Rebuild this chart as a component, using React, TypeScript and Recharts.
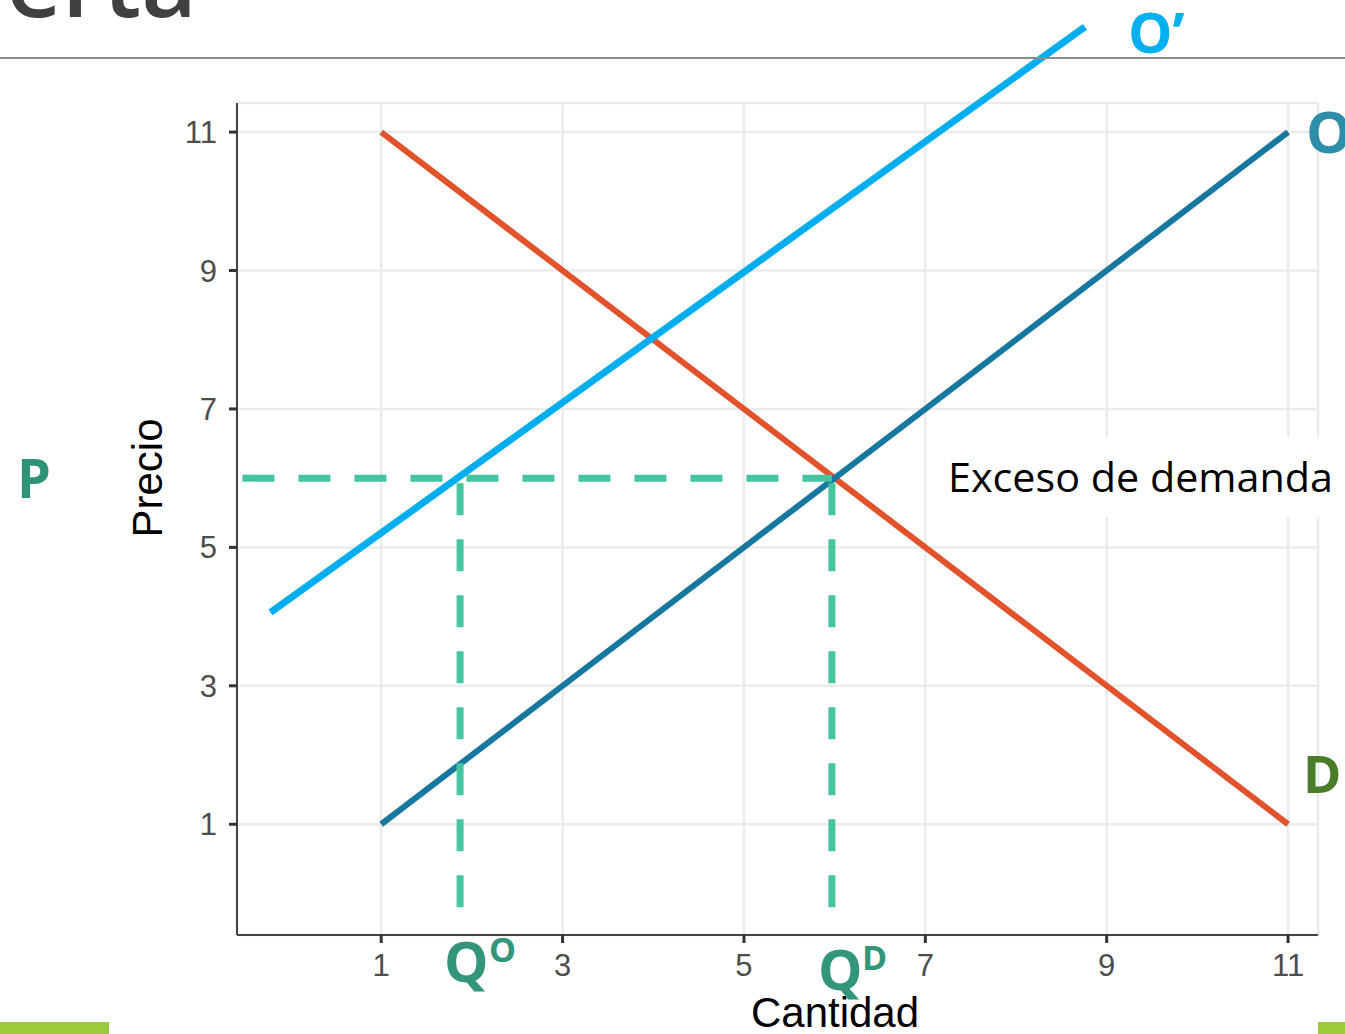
import { LineChart, Line, XAxis, YAxis, CartesianGrid, ReferenceLine } from "recharts";

const cantidad = [1, 11];
const demanda = [11, 1];
const oferta = [1, 11];

// O' is drawn by hand on the slide and runs past the panel
const ofertaNuevaQ = [-0.22, 8.76];
const ofertaNuevaP = [4.06, 12.52];

const precioMercado = 6;
const cantidadOfrecida = 1.87;
const cantidadDemandada = 5.97;
const guiaDesde = -0.53; // left end of the price guide
const guiaHasta = -0.2; // bottom end of the quantity guides

const ticks = [1, 3, 5, 7, 9, 11];

const rows = cantidad.map((q, i) => ({ q, d: demanda[i], o: oferta[i] }));

const tickStyle = { fill: "#4d4d4d", fontSize: 31, fontFamily: "Liberation Sans, Arial, sans-serif" };
const guia = { stroke: "#45c4a0", strokeWidth: 7, strokeDasharray: "32 24" };

export default function App() {
  return (
    <div style={{ position: "fixed", left: 0, top: 0, width: 1345, height: 1034, background: "#fff", overflow: "hidden" }}>
      <LineChart width={1345} height={1034} data={rows} margin={{ top: 103, right: 27, bottom: 39, left: 137 }}>
        <CartesianGrid stroke="#ebebeb" strokeWidth={2.5} />
        <XAxis
          dataKey="q"
          type="number"
          domain={[-0.59, 11.33]}
          allowDataOverflow
          ticks={ticks}
          interval={0}
          height={60}
          tick={tickStyle}
          tickSize={8}
          tickMargin={11}
          axisLine={{ stroke: "#444", strokeWidth: 2 }}
          tickLine={{ stroke: "#333", strokeWidth: 3 }}
        />
        <YAxis
          type="number"
          domain={[-0.6, 11.42]}
          allowDataOverflow
          ticks={ticks}
          interval={0}
          width={100}
          tick={tickStyle}
          tickSize={8}
          tickMargin={12}
          axisLine={{ stroke: "#444", strokeWidth: 2 }}
          tickLine={{ stroke: "#333", strokeWidth: 3 }}
        />
        <Line dataKey="d" stroke="#e2522b" strokeWidth={6} dot={false} isAnimationActive={false} />
        <Line dataKey="o" stroke="#16789f" strokeWidth={6} dot={false} isAnimationActive={false} />
        <ReferenceLine
          ifOverflow="visible"
          segment={[
            { x: ofertaNuevaQ[0], y: ofertaNuevaP[0] },
            { x: ofertaNuevaQ[1], y: ofertaNuevaP[1] },
          ]}
          stroke="#00aeef"
          strokeWidth={7}
        />
        <ReferenceLine
          ifOverflow="visible"
          segment={[
            { x: guiaDesde, y: precioMercado },
            { x: cantidadDemandada, y: precioMercado },
          ]}
          {...guia}
        />
        <ReferenceLine
          ifOverflow="visible"
          segment={[
            { x: cantidadOfrecida, y: guiaHasta },
            { x: cantidadOfrecida, y: precioMercado },
          ]}
          {...guia}
        />
        <ReferenceLine
          ifOverflow="visible"
          segment={[
            { x: cantidadDemandada, y: guiaHasta },
            { x: cantidadDemandada, y: precioMercado },
          ]}
          {...guia}
        />
      </LineChart>

      <svg width={1345} height={1034} style={{ position: "absolute", left: 0, top: 0, pointerEvents: "none" }}>
        <text x={197} y={17} textAnchor="end" fontSize={96} fontWeight={600} fontFamily="Open Sans" fill="#404040">
          Oferta
        </text>
        <line x1={0} y1={58} x2={1345} y2={58} stroke="#8c8c8c" strokeWidth={2} />

        <text x={835} y={1027} textAnchor="middle" fontSize={42} fontFamily="Liberation Sans, Arial" fill="#000">
          Cantidad
        </text>
        <text x={162} y={478} textAnchor="middle" fontSize={42} fontFamily="Liberation Sans, Arial" fill="#000" transform="rotate(-90 162 478)">
          Precio
        </text>

        <rect x={935} y={437} width={410} height={80} fill="#fff" />
        <text x={948} y={492} fontSize={40} fontFamily="Open Sans" fill="#000" textLength={385} lengthAdjust="spacingAndGlyphs">
          Exceso de demanda
        </text>

        <g fontFamily="Open Sans" fontWeight={700}>
          <text x={1128} y={53} fontSize={56} fill="#00b0f0">O’</text>
          <text x={1306} y={153} fontSize={58} fill="#2c8ea9">O</text>
          <text x={1303} y={793} fontSize={52} fill="#4a7d29">D</text>
          <text x={17} y={498} fontSize={54} fill="#2f9477">P</text>
          <text x={444} y={982} fontSize={56} fill="#33967a">Q</text>
          <text x={489} y={962} fontSize={34} fill="#33967a">O</text>
          <text x={818} y={990} fontSize={56} fill="#33967a">Q</text>
          <text x={862} y={970} fontSize={34} fill="#33967a">D</text>
        </g>

        <rect x={0} y={1022} width={109} height={12} fill="#9bcb3b" />
        <rect x={1318} y={1022} width={27} height={12} fill="#9bcb3b" />
      </svg>
    </div>
  );
}
